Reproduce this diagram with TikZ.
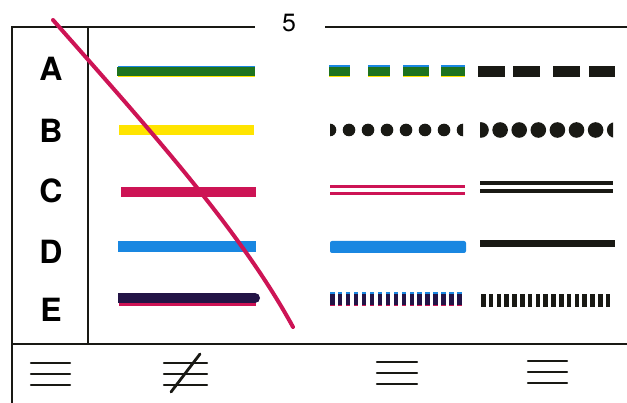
\documentclass[tikz,border=0pt]{standalone}
\usepackage{fontspec}
\setmainfont{TeX Gyre Heros}
\usepackage{tikz}

\definecolor{leafgreen}{RGB}{30,115,30}
\definecolor{lemon}{RGB}{255,228,0}
\definecolor{crimson}{RGB}{205,20,85}
\definecolor{skyblue}{RGB}{25,135,225}
\definecolor{navy}{RGB}{35,20,70}
\definecolor{ink}{RGB}{25,25,20}

\begin{document}
\begin{tikzpicture}[x=1pt, y=-1pt]
    \useasboundingbox (0,0) rectangle (627,403);
    % frame
    \draw[ink, line width=1.8] (12,403) -- (12,27) -- (255,27);
    \draw[ink, line width=1.8] (325,27) -- (627,27);
    \node[font=\fontsize{25}{25}\selectfont] (page) at (289,23) {5};
    \draw[ink, line width=1.6] (88,27) -- (88,344);
    \draw[ink, line width=1.6] (12,344) -- (627,344);
    % row letters
    \foreach \l/\y in {A/69,B/131,C/191,D/252,E/310}
        \node[font=\bfseries\fontsize{32}{32}\selectfont] (\l) at (51,\y) {\l};

    % coloured lines
    \draw[skyblue, line width=1.5] (118,66.5) -- (255,66.5);
    \draw[lemon, line width=1.5] (118,76.5) -- (255,76.5);
    \draw[leafgreen, line width=9.5] (117,71.5) -- (255,71.5);
    \draw[lemon, line width=10] (119,130) -- (254,130);
    \draw[crimson, line width=10] (121,192) -- (256,192);
    \draw[skyblue, line width=11] (118,247) -- (256,247);
    \draw[crimson, line width=4] (119,304) -- (256,304);
    \draw[navy, line width=10] (118,298) -- (255,298);
    \fill[navy] (255,298) circle (5pt);

    % column 1
    \foreach \a/\b in {329/350,368/390,403/429,441/465} {
        \fill[skyblue] (\a,65.5) rectangle (\b,68);
        \fill[lemon] (\a,75) rectangle (\b,77.5);
        \fill[leafgreen] (\a,67) rectangle (\b,76);
    }
    \begin{scope}
        \clip (330,120) rectangle (463,140);
        \foreach \i in {0,...,7}
            \fill[ink] (330+19*\i,130) circle (6.3pt);
    \end{scope}
    \draw[crimson, line width=3] (330,187) -- (465,187);
    \draw[crimson, line width=3] (330,194) -- (465,194);
    \fill[skyblue, rounded corners=2] (330,241) rectangle (466,253);
    \foreach \i in {0,...,16} {
        \fill[skyblue] (330+7.95*\i,292.5) rectangle (334.5+7.95*\i,296);
        \fill[crimson] (330+7.95*\i,303) rectangle (334.5+7.95*\i,306.5);
        \fill[navy] (330+7.95*\i,294.5) rectangle (334.5+7.95*\i,305);
    }

    % column 2
    \foreach \a/\b in {478/505,513/540,553/580,589/615}
        \fill[ink] (\a,66) rectangle (\b,77);
    \begin{scope}
        \clip (480,120) rectangle (613,140);
        \foreach \i in {0,...,7}
            \fill[ink] (481+19.1*\i,130) circle (7.8pt);
    \end{scope}
    \draw[ink, line width=3.5] (480,183) -- (613,183);
    \draw[ink, line width=3.5] (480,191) -- (613,191);
    \draw[ink, line width=7] (480,244) -- (615,244);
    \foreach \i in {0,...,16}
        \fill[ink] (481+7.8*\i,294) rectangle (485.5+7.8*\i,307);

    % crossing stroke
    \draw[crimson, line width=4, line cap=round]
        (53,20) .. controls (150,130) and (240,230) .. (293,327);

    % bottom symbols
    \foreach \y in {363,374,385} {
        \draw[ink, line width=2.4, line cap=round] (31,\y) -- (70,\y);
        \draw[ink, line width=2.4, line cap=round] (164,\y) -- (207,\y);
    }
    \draw[ink, line width=2.8, line cap=round] (171,392) -- (200,354);
    \foreach \y in {361,372,383} {
        \draw[ink, line width=2.4, line cap=round] (377,\y+1) -- (417,\y+1);
        \draw[ink, line width=2.4, line cap=round] (528,\y) -- (567,\y);
    }
\end{tikzpicture}
\end{document}
